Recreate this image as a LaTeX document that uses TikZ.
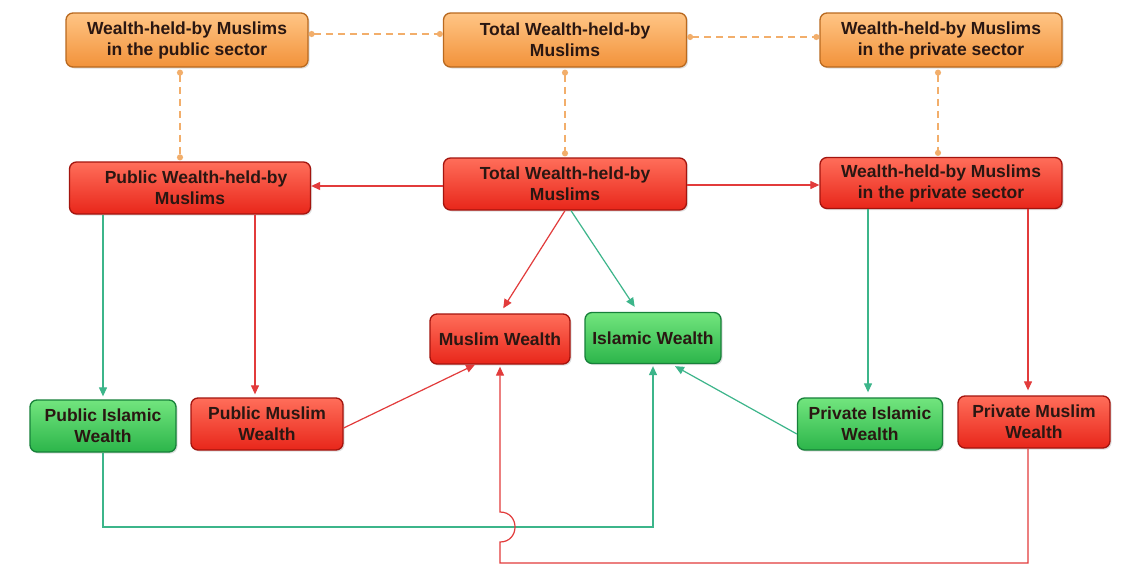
\documentclass[tikz,border=0pt]{standalone}
\usepackage{fontspec}
\setmainfont{Liberation Sans}
\usetikzlibrary{arrows.meta,shadows,calc}

\definecolor{orT}{HTML}{FFC585}
\definecolor{orB}{HTML}{F2923A}
\definecolor{orD}{HTML}{B9691F}
\definecolor{rdT}{HTML}{FF6E5A}
\definecolor{rdB}{HTML}{E8261A}
\definecolor{rdD}{HTML}{A3140E}
\definecolor{gnT}{HTML}{72E57E}
\definecolor{gnB}{HTML}{2CB54A}
\definecolor{gnD}{HTML}{17803A}
\definecolor{txt}{HTML}{2A1712}
\definecolor{redln}{HTML}{E23B3B}
\definecolor{grnln}{HTML}{3CB58A}
\definecolor{orln}{HTML}{F2AE6B}

\tikzset{
  box/.style={rounded corners=7pt, draw, line width=1.3pt, align=center,
    font=\fontsize{17.5}{21}\selectfont\bfseries, text=txt, inner sep=2pt,
    drop shadow={opacity=0.25, shadow xshift=1.5pt, shadow yshift=-1.5pt}},
  obox/.style={box, top color=orT, bottom color=orB, draw=orD},
  rbox/.style={box, top color=rdT, bottom color=rdB, draw=rdD},
  gbox/.style={box, top color=gnT, bottom color=gnB, draw=gnD},
  tip/.style={-{Triangle[length=9pt,width=8pt]}},
  redarrow/.style={tip, draw=redln, line width=1.2pt},
  grnarrow/.style={tip, draw=grnln, line width=1.2pt},
  dashlink/.style={draw=orln, line width=1.6pt, dash pattern=on 7pt off 5pt,
    {Circle[length=6pt,fill=orln]}-{Circle[length=6pt,fill=orln]}},
}

\begin{document}
\begin{tikzpicture}[x=1pt, y=-1pt]
\path[use as bounding box, fill=white] (0,0) rectangle (1128,565);

% top row: orange boxes
\node[obox, minimum width=242pt, minimum height=54pt] (O1) at (187,40) {Wealth-held-by Muslims\\in the public sector};
\node[obox, minimum width=243pt, minimum height=54pt] (O2) at (565,40) {Total Wealth-held-by\\Muslims};
\node[obox, minimum width=242pt, minimum height=54pt] (O3) at (941,40) {Wealth-held-by Muslims\\in the private sector};

% second row: red boxes
\node[rbox, minimum width=241pt, minimum height=52pt] (R1) at (190,188) {\hspace*{12pt}Public Wealth-held-by\\Muslims};
\node[rbox, minimum width=243pt, minimum height=52pt] (R2) at (565,184) {Total Wealth-held-by\\Muslims};
\node[rbox, minimum width=242pt, minimum height=51pt] (R3) at (941,183) {Wealth-held-by Muslims\\in the private sector};

% middle pair
\node[rbox, minimum width=140pt, minimum height=50pt] (MW) at (500,339) {Muslim Wealth};
\node[gbox, minimum width=136pt, minimum height=51pt] (IW) at (653,338) {Islamic Wealth};

% bottom row
\node[gbox, minimum width=146pt, minimum height=52pt] (PIW) at (103,426) {Public Islamic\\Wealth};
\node[rbox, minimum width=152pt, minimum height=52pt] (PMW) at (267,424) {Public Muslim\\Wealth};
\node[gbox, minimum width=145pt, minimum height=52pt] (PrIW) at (870,424) {Private Islamic\\Wealth};
\node[rbox, minimum width=152pt, minimum height=52pt] (PrMW) at (1034,422) {Private Muslim\\Wealth};

% dashed links between the orange boxes and down to the red row
\draw[dashlink] ($(O1.east)+(0,-6)$) -- ($(O2.west)+(0,-6)$);
\draw[dashlink] ($(O2.east)+(0,-3)$) -- ($(O3.west)+(0,-3)$);
\draw[dashlink] ($(O1.south -| 180,0)+(0,2)$) -- ($(R1.north -| 180,0)+(0,-1)$);
\draw[dashlink] ($(O2.south)+(0,2)$) -- ($(R2.north)+(0,-1)$);
\draw[dashlink] ($(O3.south -| 938,0)+(0,2)$) -- ($(R3.north -| 938,0)+(0,-1)$);

% red row
\draw[redarrow] (R2.west |- 0,186) -- (R1.east |- 0,186);
\draw[redarrow] (R2.east |- 0,185) -- (R3.west |- 0,185);

% from the total to the middle pair
\draw[redarrow, shorten >=6pt] (R2.south) -- (MW.north);
\draw[grnarrow, shorten >=6pt] ($(R2.south)+(6,0)$) -- ($(IW.north)+(-15,0)$);

% public and private splits
\draw[grnarrow, shorten >=3pt] (PIW.north |- R1.south) -- (PIW.north);
\draw[redarrow, shorten >=3pt] ($(PMW.north |- R1.south)+(-12,0)$) -- ($(PMW.north)+(-12,0)$);
\draw[grnarrow, shorten >=5pt] ($(PrIW.north |- R3.south)+(-2,0)$) -- ($(PrIW.north)+(-2,0)$);
\draw[redarrow, shorten >=5pt] ($(PrMW.north |- R3.south)+(-6,0)$) -- ($(PrMW.north)+(-6,0)$);

% diagonal feeds into the middle pair
\draw[redarrow] ($(PMW.east)+(0,4)$) -- ($(MW.south)+(-25,0)$);
\draw[grnarrow] ($(PrIW.west)+(0,10)$) -- ($(IW.south)+(22,2)$);

% long routes along the bottom
\draw[grnarrow] (PIW.south) -- (PIW.south |- 0,527) -- (IW.south |- 0,527) -- ($(IW.south)+(0,2)$);
\coordinate (pmb) at ($(PrMW.south)+(-6,0)$);
\draw[redarrow] (pmb) -- (pmb |- 0,563) -- (MW.south |- 0,563) -- (MW.south |- 0,542)
  .. controls +(20,0) and +(20,0) .. (MW.south |- 0,512) -- ($(MW.south)+(0,2)$);
\end{tikzpicture}
\end{document}
